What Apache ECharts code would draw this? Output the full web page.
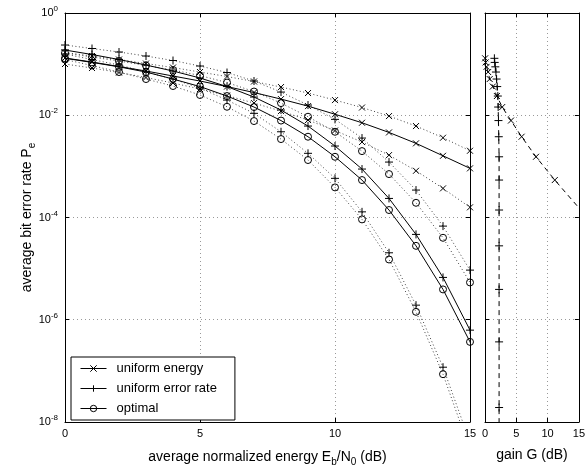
<!DOCTYPE html>
<html><head><meta charset="utf-8">
<script src="https://cdn.jsdelivr.net/npm/echarts@6/dist/echarts.min.js"></script>
<style>html,body{margin:0;padding:0;background:#fff}#c{width:588px;height:473px}</style>
</head><body><div id="c"></div>
<script>
// ---- data ----
const snr = [0,1,2,3,4,5,6,7,8,9,10,11,12,13,14,15,16,17];
// solid curves
const uniformEnergy    = [0.1316,0.1099,0.0897,0.0733,0.0585,0.0467,0.0364,0.0278,0.0207,0.0151,0.01046,0.00713,0.00461,0.00282,0.00161,9.14e-4,4.93e-4,2.62e-4];
const uniformErrorRate = [0.1887,0.1541,0.1230,0.0960,0.0733,0.0535,0.0364,0.0227,0.01264,0.006145,0.0025,8.86e-4,2.36e-4,4.67e-5,6.73e-6,6.26e-7,3.35e-8,1.14e-9];
const optimal          = [0.130,0.108,0.0885,0.0700,0.0511,0.0364,0.02375,0.01447,0.00787,0.0038,0.00154,5.40e-4,1.40e-4,2.79e-5,3.92e-6,3.69e-7,1.92e-8,5.8e-10];
// dotted curves (other scenarios)
const snrDotted = [0,1,2,3,4,5,6,7,8,9,10,11,12,13,14,15];
const uniformEnergyA    = [0.1687,0.1440,0.1230,0.1027,0.0858,0.0700,0.0572,0.0457,0.0356,0.0272,0.0198,0.01415,0.00964,0.006145,0.00363,0.00202];
const uniformEnergyB    = [0.1005,0.0839,0.0685,0.0547,0.0427,0.0326,0.0243,0.0173,0.01208,0.00805,0.00502,0.00299,0.00166,8.2e-4,3.71e-4,1.58e-4];
const uniformErrorRateA = [0.2364,0.2020,0.1725,0.1440,0.1176,0.0918,0.0685,0.0467,0.0284,0.01584,0.00831,0.00358,0.001214,3.44e-4,6.79e-5,9.35e-6];
const optimalA          = [0.1649,0.1377,0.1150,0.0939,0.0766,0.0598,0.0436,0.0291,0.0173,0.00935,0.00475,0.00199,7.07e-4,1.94e-4,4.01e-5,5.37e-6];
const uniformErrorRateB = [0.1577,0.1230,0.0960,0.0700,0.0511,0.0341,0.0198,0.0109,0.00475,0.0018,5.83e-4,1.29e-4,2.04e-5,1.93e-6,1.18e-7,4.02e-9];
const optimalB          = [0.1230,0.0939,0.0700,0.0511,0.0373,0.0249,0.01466,0.0077,0.00342,0.00133,3.88e-4,9.18e-5,1.51e-5,1.43e-6,8.62e-8,2.81e-9];
// right panel: gain (dB) at the error rates of the optimal curve
const gainOverUniformEnergy    = [0.02,0.1,0.25,0.5,0.75,1.25,1.9,2.75,4.15,5.85,8.15,11.15,15.3];
const gainOverUniformErrorRate = [1.5,1.55,1.65,1.75,1.85,1.95,2.05,2.1,2.15,2.2,2.25,2.25,2.25,2.25,2.25,2.25,2.25,2.25];
const legendNames = ['uniform energy','uniform error rate','optimal'];

// ---- styling ----
const FONT = 'Liberation Sans, Arial, Helvetica, sans-serif';
const X_SYM = 'path://M0,0L10,10M0,10L10,0';
const P_SYM = 'path://M5,0L5,10M0,5L10,5';
const markers = {
  x: {symbol: X_SYM, symbolSize: 6},
  p: {symbol: P_SYM, symbolSize: 8},
  o: {symbol: 'circle', symbolSize: 7}
};
const pairs = (xs, ys) => ys.map((y, i) => [xs[i], y]);
function lineSeries(name, data, mk, style, xi, yi, z) {
  return {
    name, type: 'line', data, xAxisIndex: xi, yAxisIndex: yi, z,
    symbol: markers[mk].symbol, symbolSize: markers[mk].symbolSize,
    showSymbol: true, clip: true, silent: true,
    itemStyle: {color: 'none', borderColor: '#000', borderWidth: 1},
    lineStyle: style, emphasis: {disabled: true}
  };
}
const solid = {color: '#000', width: 1, type: 'solid'};
const dotted = {color: '#444', width: 1, type: [1, 2.5]};
const dashed = {color: '#000', width: 1, type: [5, 4]};

const gridLine = {show: true, lineStyle: {color: '#999', width: 1, type: [1, 3]}};
const axLine = {show: true, onZero: false, lineStyle: {color: '#000', width: 1}};
const tick = {show: true, inside: true, length: 4, lineStyle: {color: '#000'}};
const yFmt = v => '{b|10}{s|' + Math.round(Math.log10(v)) + '}';

function xAx(gi, pos, extra) {
  return Object.assign({
    gridIndex: gi, type: 'value', position: pos, min: 0, max: 15, interval: 5,
    axisLine: axLine, axisTick: tick, splitLine: {show: false},
    axisLabel: {show: false}
  }, extra || {});
}
function yAx(gi, pos, extra) {
  return Object.assign({
    gridIndex: gi, type: 'log', logBase: 10, position: pos, min: 1e-8, max: 1, interval: 2,
    axisLine: axLine, axisTick: tick, splitLine: {show: false},
    axisLabel: {show: false}
  }, extra || {});
}
const xLabel = {show: true, fontSize: 11, color: '#000', fontFamily: FONT, margin: 6};

const option = {
  animation: false,
  backgroundColor: '#fff',
  grid: [
    {left: 65, top: 13, width: 405, height: 409},
    {left: 485, top: 13, width: 100, height: 409}
  ],
  xAxis: [
    xAx(0, 'bottom', {axisLabel: xLabel, splitLine: gridLine,
      name: 'average normalized energy E{sub|b}/N{sub|0} (dB)', nameLocation: 'middle', nameGap: 26,
      nameMoveOverlap: false,
      nameTextStyle: {fontSize: 14, color: '#000', fontFamily: FONT,
        rich: {sub: {fontSize: 10, fontFamily: FONT, color: '#000', padding: [9, 0, 0, 0]}}}}),
    xAx(0, 'top'),
    xAx(1, 'bottom', {axisLabel: xLabel, splitLine: gridLine,
      name: 'gain G (dB)', nameLocation: 'middle', nameGap: 26, nameMoveOverlap: false,
      nameTextStyle: {fontSize: 14, color: '#000', fontFamily: FONT}}),
    xAx(1, 'top')
  ],
  yAxis: [
    yAx(0, 'left', {splitLine: gridLine,
      axisLabel: {show: true, formatter: yFmt, margin: 7,
        rich: {b: {fontSize: 11, color: '#000', fontFamily: FONT},
               s: {fontSize: 8, color: '#000', fontFamily: FONT, padding: [0, 0, 8, 0]}}},
      name: 'average bit error rate P{sub|e}', nameLocation: 'middle', nameGap: 28,
      nameMoveOverlap: false,
      nameTextStyle: {fontSize: 14, color: '#000', fontFamily: FONT,
        rich: {sub: {fontSize: 10, fontFamily: FONT, color: '#000', padding: [9, 0, 0, 0]}}}}),
    yAx(0, 'right'),
    yAx(1, 'left', {splitLine: gridLine}),
    yAx(1, 'right')
  ],
  legend: {
    data: legendNames, orient: 'vertical', left: 71, top: 357,
    backgroundColor: '#fff', borderColor: '#000', borderWidth: 1, borderRadius: 0,
    padding: [5, 18, 5, 9], itemWidth: 26, itemHeight: 8, itemGap: 7,
    selectedMode: false,
    itemStyle: {color: 'none', borderColor: '#000', borderWidth: 1},
    lineStyle: {color: '#000', width: 1},
    textStyle: {fontSize: 13, color: '#000', fontFamily: FONT, padding: [0, 0, 0, 5]}
  },
  series: [
    lineSeries('uniform energy A', pairs(snrDotted, uniformEnergyA), 'x', dotted, 0, 0, 2),
    lineSeries('uniform energy B', pairs(snrDotted, uniformEnergyB), 'x', dotted, 0, 0, 2),
    lineSeries('uniform error rate A', pairs(snrDotted, uniformErrorRateA), 'p', dotted, 0, 0, 2),
    lineSeries('optimal A', pairs(snrDotted, optimalA), 'o', dotted, 0, 0, 2),
    lineSeries('uniform error rate B', pairs(snrDotted, uniformErrorRateB), 'p', dotted, 0, 0, 2),
    lineSeries('optimal B', pairs(snrDotted, optimalB), 'o', dotted, 0, 0, 2),
    lineSeries('uniform energy', pairs(snr, uniformEnergy), 'x', solid, 0, 0, 3),
    lineSeries('uniform error rate', pairs(snr, uniformErrorRate), 'p', solid, 0, 0, 3),
    lineSeries('optimal', pairs(snr, optimal), 'o', solid, 0, 0, 3),
    lineSeries('gain vs uniform energy', pairs(gainOverUniformEnergy, optimal), 'x', dashed, 2, 2, 3),
    lineSeries('gain vs uniform error rate', pairs(gainOverUniformErrorRate, optimal), 'p', dashed, 2, 2, 3)
  ]
};
const chart = echarts.init(document.getElementById('c'), null, {renderer: 'canvas'});
chart.setOption(option);
</script>
</body></html>
